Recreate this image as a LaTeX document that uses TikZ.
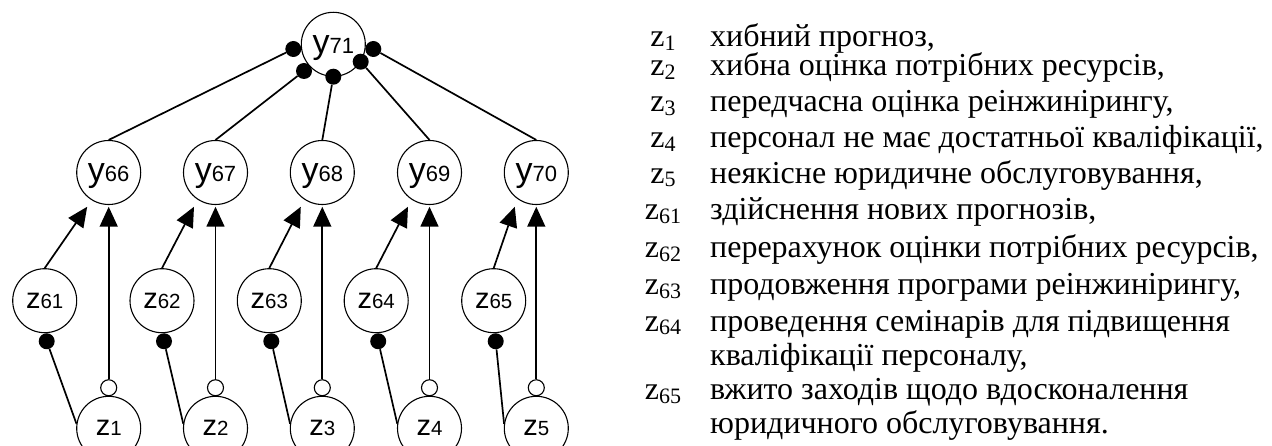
\documentclass[tikz,border=0pt]{standalone}
\usepackage{fontspec}
\setmainfont{Liberation Serif}
\newfontfamily\nodefont{Liberation Sans}
\usetikzlibrary{arrows.meta,calc}

% labels inside the circles: large letter followed by smaller index
\newcommand\ylab[1]{{\fontsize{34}{34}\selectfont y}{\fontsize{22}{22}\selectfont #1}}
\newcommand\zlab[1]{{\fontsize{29}{29}\selectfont z}{\fontsize{20.5}{20.5}\selectfont #1}}
% legend symbol with lowered index
\newcommand\klab[1]{z\raisebox{-3.5pt}{\fontsize{22}{22}\selectfont #1}}

\begin{document}
\begin{tikzpicture}[x=1pt,y=-1pt,
  vertex/.style={circle,draw,line width=1.1pt,minimum size=64pt,inner sep=0pt,
    font=\nodefont,text depth=0pt},
  dotmark/.style={circle,fill,inner sep=0pt,minimum size=16pt},
  ringmark/.style={circle,draw,fill=white,line width=1.1pt,inner sep=0pt,minimum size=16pt},
  link/.style={line width=1.7pt},
  arr/.style={link,-{Triangle[length=20pt,width=18pt]},shorten >=1.7pt},
  legend/.style={inner sep=0pt,text height=20pt,text depth=7pt,
    font=\fontsize{32}{32}\selectfont}
]
\clip (0,0) rectangle (1272,446);

% top vertex
\node[vertex] (y71) at (333.3,44.3) {\ylab{71}};

% contact dots around y71
\node[dotmark] (d66) at ($(y71)+(-40,4.7)$) {};
\node[dotmark] (d67) at ($(y71)+(-29.3,26.7)$) {};
\node[dotmark] (d68) at ($(y71)+(0,32.4)$) {};
\node[dotmark] (d69) at ($(y71)+(27.4,17.4)$) {};
\node[dotmark] (d70) at ($(y71)+(40,4.7)$) {};

\foreach \i/\j/\x/\zx in {66/1/108.7/44.7, 67/2/215.5/162, 68/3/322.3/269.3,
                          69/4/429.5/376.2, 70/5/536.3/493.7}{
  \node[vertex] (y\i) at (\x,172.5) {\ylab{\i}};
  \node[vertex] (z6\j) at (\zx,300.7) {\zlab{6\j}};
  \node[vertex] (z\j) at (\x,428.3) {\zlab{\j}};
  \node[ringmark] (r\j) at ($(z\j.north)+(0,-8)$) {};
  \node[dotmark] (b\j) at ($(z6\j.south)+(2,8)$) {};
  \coordinate (t\i) at ($(y\i.south)+(-21.5,1.7)$);
  \draw[link] (y\i.north) -- (d\i);
  \draw[arr] (r\j) -- (y\i);
  \draw[arr,shorten >=0pt] (z6\j.north) -- (t\i);
  \draw[link] (b\j) -- (z\j.172);
}

% legend
\foreach \k/\b/\t in {1/47/{хибний прогноз,},
                      2/76/{хибна оцінка потрібних ресурсів,},
                      3/112/{передчасна оцінка реінжинірингу,},
                      4/148/{персонал не має достатньої кваліфікації,},
                      5/183.5/{неякісне юридичне обслуговування,},
                      61/220/{здійснення нових прогнозів,},
                      62/258/{перерахунок оцінки потрібних ресурсів,},
                      63/295/{продовження програми реінжинірингу,},
                      64/331/{проведення семінарів для підвищення},
                      65/399.5/{вжито заходів щодо вдосконалення}}{
  \node[legend,anchor=base] (lk\k) at (663,\b) {\klab{\k}};
  \node[legend,anchor=base west] (lt\k) at (710,\b) {\t};
}
\node[legend,anchor=base west] (lt64b) at (710,366) {кваліфікації персоналу,};
\node[legend,anchor=base west] (lt65b) at (710,433) {юридичного обслуговування.};
\end{tikzpicture}
\end{document}
